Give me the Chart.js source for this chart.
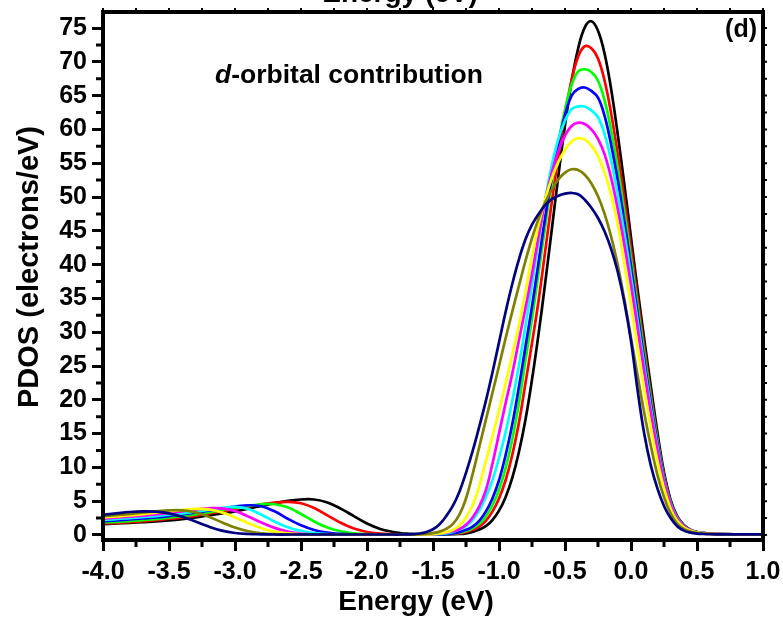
<!DOCTYPE html>
<html>
<head>
<meta charset="utf-8">
<script src="https://cdn.jsdelivr.net/npm/chart.js@4.4.0/dist/chart.umd.min.js"></script>
<style>
  html, body { margin: 0; padding: 0; background: #fff; }
</style>
</head>
<body>
<canvas id="pdos" width="783" height="622"></canvas>
<script>
// energy grid (eV) shared by all curves
const energy = [
  -4.0, -3.9, -3.8, -3.7, -3.6, -3.5, -3.4, -3.3, -3.2, -3.1, -3.0, -2.9, -2.8, -2.7, -2.6, -2.5, -2.4, -2.3, -2.2, -2.1, -2.0, -1.9, -1.8,
  -1.75, -1.7, -1.65, -1.6, -1.55, -1.5, -1.45, -1.4, -1.35, -1.3, -1.25, -1.2, -1.15, -1.1, -1.05, -1.0, -0.95, -0.9, -0.85, -0.8, -0.75, -0.7, -0.65, -0.6,
  -0.55, -0.5, -0.45, -0.4, -0.35, -0.3, -0.25, -0.2, -0.15, -0.1, -0.05, 0.0, 0.05, 0.1, 0.15, 0.2, 0.25, 0.3, 0.35, 0.4, 0.45, 0.5, 0.55, 0.6,
  0.7, 0.8, 0.9, 1.0
];

// PDOS (electrons/eV), d-orbital, one array per curve
const pdosBlack = [
  1.6, 1.7, 1.8, 1.9, 2.0, 2.15, 2.35, 2.6, 2.9, 3.2, 3.5, 3.9, 4.3, 4.7, 5.05, 5.25, 5.25, 4.8, 3.9, 2.8, 1.7, 0.9, 0.45,
  0.3, 0.2, 0.15, 0.12, 0.1, 0.1, 0.1, 0.1, 0.12, 0.15, 0.25, 0.45, 0.8, 1.3, 2.2, 3.6, 5.6, 8.4, 12.2, 17.0, 23.0, 29.8, 37.3, 45.2,
  53.2, 60.6, 67.1, 72.0, 75.1, 76.0, 74.6, 71.2, 65.9, 59.2, 51.8, 44.0, 36.3, 29.0, 22.0, 15.2, 9.3, 5.2, 2.8, 1.5, 0.8, 0.45, 0.3, 0.2,
  0.12, 0.1, 0.1, 0.1
];
const pdosRed = [
  1.7, 1.8, 1.9, 2.05, 2.2, 2.4, 2.6, 2.85, 3.15, 3.5, 3.85, 4.2, 4.55, 4.8, 4.9, 4.7, 4.0, 2.9, 1.8, 0.95, 0.45, 0.22, 0.12,
  0.1, 0.08, 0.08, 0.08, 0.08, 0.08, 0.1, 0.12, 0.17, 0.25, 0.43, 0.76, 1.25, 2.1, 3.45, 5.4, 8.1, 11.8, 16.5, 22.4, 28.4, 34.7, 42.0, 49.3,
  56.1, 62.3, 67.3, 70.8, 72.3, 72.0, 70.5, 67.2, 62.3, 56.3, 49.6, 42.4, 35.0, 27.8, 20.9, 14.4, 8.8, 4.9, 2.6, 1.4, 0.75, 0.42, 0.28, 0.2,
  0.12, 0.1, 0.1, 0.1
];
const pdosGreen = [
  1.85, 1.95, 2.05, 2.2, 2.35, 2.55, 2.8, 3.05, 3.35, 3.7, 4.0, 4.3, 4.55, 4.55, 4.1, 3.1, 2.0, 1.1, 0.55, 0.25, 0.12, 0.08, 0.07,
  0.07, 0.07, 0.07, 0.07, 0.07, 0.07, 0.09, 0.12, 0.2, 0.33, 0.58, 1.0, 1.65, 2.75, 4.4, 6.7, 9.9, 14.1, 19.4, 25.8, 32.0, 38.8, 45.7, 52.3,
  58.1, 62.9, 66.6, 68.6, 68.9, 68.5, 67.2, 64.3, 59.8, 54.2, 47.8, 40.9, 33.8, 26.9, 20.2, 14.0, 8.6, 4.8, 2.6, 1.4, 0.75, 0.42, 0.28, 0.2,
  0.12, 0.1, 0.1, 0.1
];
const pdosBlue = [
  2.05, 2.15, 2.3, 2.45, 2.6, 2.8, 3.05, 3.3, 3.6, 3.9, 4.2, 4.4, 4.25, 3.5, 2.4, 1.45, 0.75, 0.35, 0.16, 0.08, 0.06, 0.06, 0.06,
  0.06, 0.06, 0.06, 0.06, 0.06, 0.06, 0.08, 0.12, 0.24, 0.43, 0.76, 1.25, 2.1, 3.45, 5.4, 8.1, 11.8, 16.3, 21.8, 27.8, 33.8, 40.4, 47.0, 52.9,
  58.0, 62.1, 65.0, 66.0, 66.2, 65.7, 64.7, 62.0, 57.7, 52.4, 46.3, 39.7, 32.8, 26.0, 19.5, 13.6, 8.4, 4.7, 2.5, 1.35, 0.72, 0.4, 0.27, 0.19,
  0.12, 0.1, 0.1, 0.1
];
const pdosCyan = [
  2.25, 2.35, 2.5, 2.65, 2.8, 3.0, 3.2, 3.45, 3.7, 4.0, 4.15, 3.85, 3.0, 2.0, 1.15, 0.6, 0.28, 0.13, 0.08, 0.07, 0.07, 0.07, 0.07,
  0.07, 0.07, 0.07, 0.07, 0.07, 0.1, 0.15, 0.25, 0.45, 0.8, 1.3, 2.2, 3.6, 5.6, 8.1, 11.4, 15.2, 19.8, 25.0, 30.9, 37.1, 43.6, 49.6, 54.7,
  58.6, 61.3, 63.0, 63.4, 63.4, 62.8, 61.8, 59.3, 55.3, 50.3, 44.6, 38.3, 31.7, 25.1, 18.8, 13.1, 8.1, 4.6, 2.45, 1.3, 0.7, 0.4, 0.27, 0.19,
  0.12, 0.1, 0.1, 0.1
];
const pdosMagenta = [
  2.4, 2.55, 2.7, 2.85, 3.05, 3.25, 3.5, 3.75, 3.95, 3.95, 3.55, 2.75, 1.85, 1.05, 0.5, 0.22, 0.1, 0.07, 0.07, 0.07, 0.07, 0.07, 0.07,
  0.07, 0.07, 0.07, 0.07, 0.08, 0.12, 0.2, 0.35, 0.55, 0.85, 1.5, 2.6, 4.2, 6.6, 10.5, 15.0, 19.5, 23.8, 28.7, 33.5, 38.6, 44.2, 49.5, 53.6,
  56.8, 59.1, 60.5, 61.0, 60.8, 60.0, 58.6, 56.3, 52.8, 48.2, 42.9, 37.0, 30.6, 24.2, 18.1, 12.6, 7.9, 4.5, 2.4, 1.3, 0.7, 0.4, 0.27, 0.19,
  0.12, 0.1, 0.1, 0.1
];
const pdosYellow = [
  2.6, 2.75, 2.9, 3.1, 3.3, 3.5, 3.7, 3.85, 3.8, 3.35, 2.6, 1.75, 1.0, 0.5, 0.25, 0.12, 0.08, 0.08, 0.08, 0.08, 0.08, 0.08, 0.08,
  0.08, 0.08, 0.08, 0.08, 0.08, 0.12, 0.22, 0.4, 0.75, 1.4, 2.6, 4.4, 7.2, 10.9, 14.6, 18.4, 22.4, 26.6, 31.0, 36.0, 41.2, 45.9, 49.7, 52.8,
  55.2, 57.0, 58.2, 58.7, 58.5, 57.6, 56.0, 53.6, 50.2, 45.9, 40.0, 34.0, 27.6, 21.5, 15.9, 11.0, 6.9, 3.9, 2.1, 1.15, 0.62, 0.36, 0.25, 0.18,
  0.12, 0.1, 0.1, 0.1
];
const pdosOlive = [
  2.8, 2.95, 3.1, 3.3, 3.5, 3.65, 3.65, 3.35, 2.7, 1.9, 1.1, 0.55, 0.25, 0.12, 0.08, 0.08, 0.08, 0.08, 0.08, 0.08, 0.08, 0.08, 0.08,
  0.08, 0.08, 0.08, 0.1, 0.15, 0.28, 0.5, 0.9, 1.6, 3.0, 5.4, 9.0, 13.0, 17.0, 21.0, 25.0, 29.1, 33.0, 36.8, 40.5, 43.9, 46.8, 49.2, 51.1,
  52.6, 53.6, 54.1, 54.0, 53.3, 52.0, 50.1, 47.5, 44.1, 39.9, 34.8, 29.2, 23.6, 18.1, 13.2, 8.9, 5.6, 3.2, 1.7, 0.9, 0.5, 0.3, 0.22, 0.16,
  0.11, 0.1, 0.1, 0.1
];
const pdosNavy = [
  3.0, 3.2, 3.4, 3.5, 3.45, 3.2, 2.7, 2.0, 1.25, 0.65, 0.3, 0.15, 0.1, 0.07, 0.07, 0.07, 0.07, 0.07, 0.07, 0.07, 0.07, 0.07, 0.07,
  0.07, 0.08, 0.12, 0.22, 0.45, 0.85, 1.6, 2.8, 4.3, 6.4, 9.2, 12.4, 16.0, 19.8, 24.0, 28.5, 33.0, 37.1, 40.7, 43.7, 45.9, 47.5, 48.8, 49.7,
  50.2, 50.5, 50.6, 50.4, 49.6, 48.4, 46.9, 44.9, 42.3, 38.9, 34.4, 28.7, 21.4, 15.0, 10.3, 6.9, 4.3, 2.5, 1.3, 0.65, 0.35, 0.2, 0.15, 0.12,
  0.1, 0.1, 0.1, 0.1
];

const xTickValues = [-4.0, -3.5, -3.0, -2.5, -2.0, -1.5, -1.0, -0.5, 0.0, 0.5, 1.0];
const yTickValues = [0, 5, 10, 15, 20, 25, 30, 35, 40, 45, 50, 55, 60, 65, 70, 75];

const curves = [pdosBlack, pdosRed, pdosGreen, pdosBlue, pdosCyan, pdosMagenta, pdosYellow, pdosOlive, pdosNavy];
const curveColors = ['#000000', '#ff0000', '#00ff00', '#0000ff', '#00ffff', '#ff00ff', '#ffff00', '#808000', '#000080'];

const FONT = "'Liberation Sans', Arial, sans-serif";

const midpoints = (arr) => arr.slice(1).map((v, i) => (v + arr[i]) / 2);
const xMinor = midpoints(xTickValues);
const yMinor = midpoints(yTickValues).concat([yTickValues[yTickValues.length - 1] + 2.5]);

// keep the plot box where the reference has it
const noPad = (s) => {
  s.paddingLeft = 0;
  s.paddingRight = 0;
  s.paddingTop = 0;
  s.paddingBottom = 0;
};

// frame, minor ticks and text labels
const framePlugin = {
  id: "framePlugin",
  afterDraw(chart) {
    const { ctx, chartArea: a } = chart;
    const x = chart.scales.x;
    const y = chart.scales.y;
    ctx.save();
    ctx.strokeStyle = "#000";
    ctx.lineWidth = 4;
    ctx.strokeRect(a.left, a.top, a.right - a.left, a.bottom - a.top);

    ctx.lineWidth = 3;
    ctx.beginPath();
    xMinor.forEach((v) => {
      const px = x.getPixelForValue(v);
      ctx.moveTo(px, a.bottom);
      ctx.lineTo(px, a.bottom + 7);
    });
    yMinor.forEach((v) => {
      if (v > y.max) return;
      const py = y.getPixelForValue(v);
      ctx.moveTo(a.left, py);
      ctx.lineTo(a.left - 7, py);
    });
    ctx.stroke();

    // short ticks on top and right edges
    ctx.lineWidth = 2;
    ctx.beginPath();
    xTickValues.concat(xMinor).forEach((v) => {
      const px = x.getPixelForValue(v);
      ctx.moveTo(px, a.top);
      ctx.lineTo(px, a.top - 4);
    });
    yTickValues.concat(yMinor).forEach((v) => {
      if (v > y.max) return;
      const py = y.getPixelForValue(v);
      ctx.moveTo(a.right, py);
      ctx.lineTo(a.right + 4, py);
    });
    ctx.stroke();

    ctx.fillStyle = "#000";
    ctx.textBaseline = "alphabetic";

    // axis titles
    ctx.font = "bold 28px " + FONT;
    ctx.textAlign = "center";
    ctx.fillText("Energy (eV)", 416, 610);
    ctx.fillText("Energy (eV)", 400, 2);

    ctx.save();
    ctx.translate(30, 267);
    ctx.rotate(-Math.PI / 2);
    ctx.font = "bold 29px " + FONT;
    ctx.textBaseline = "middle";
    ctx.fillText("PDOS (electrons/eV)", 0, 0);
    ctx.restore();

    // panel label
    ctx.font = "bold 25px " + FONT;
    ctx.textAlign = "right";
    ctx.fillText("(d)", 757, 37);

    // annotation
    ctx.textAlign = "left";
    ctx.font = "italic bold 26.5px " + FONT;
    ctx.fillText("d", 215, 83);
    const w = ctx.measureText("d").width;
    ctx.font = "bold 26.5px " + FONT;
    ctx.fillText("-orbital contribution", 215 + w, 83);

    ctx.restore();
  },
};

new Chart(document.getElementById("pdos"), {
  type: "line",
  data: {
    datasets: curves.map((values, i) => ({
      label: "curve " + (i + 1),
      data: energy.map((e, k) => ({ x: e, y: values[k] })),
      borderColor: curveColors[i],
      borderWidth: 2.7,
      pointRadius: 0,
      tension: 0.4,
      fill: false,
      order: curves.length - i,
    })),
  },
  options: {
    responsive: false,
    animation: false,
    layout: { padding: { left: 0, right: 20, top: 12, bottom: 0 } },
    plugins: { legend: { display: false }, tooltip: { enabled: false } },
    scales: {
      x: {
        type: "linear",
        min: -4,
        max: 1,
        afterBuildTicks: (s) => { s.ticks = xTickValues.map((v) => ({ value: v })); },
        afterFit: (s) => { s.height = 82; noPad(s); },
        ticks: {
          callback: (v) => Number(v).toFixed(1),
          font: { family: FONT, size: 25, weight: "bold" },
          color: "#000",
          padding: 6,
          maxRotation: 0,
          autoSkip: false,
        },
        grid: { drawOnChartArea: false, tickLength: 11, tickWidth: 3, tickColor: "#000" },
        border: { display: false },
      },
      y: {
        type: "linear",
        min: -0.74,
        max: 77.37,
        afterBuildTicks: (s) => { s.ticks = yTickValues.map((v) => ({ value: v })); },
        afterFit: (s) => { s.width = 103; noPad(s); },
        ticks: {
          callback: (v) => String(v),
          font: { family: FONT, size: 25, weight: "bold" },
          color: "#000",
          padding: 5,
          autoSkip: false,
        },
        grid: { drawOnChartArea: false, tickLength: 11, tickWidth: 3, tickColor: "#000" },
        border: { display: false },
      },
    },
  },
  plugins: [framePlugin],
});
</script>
</body>
</html>
